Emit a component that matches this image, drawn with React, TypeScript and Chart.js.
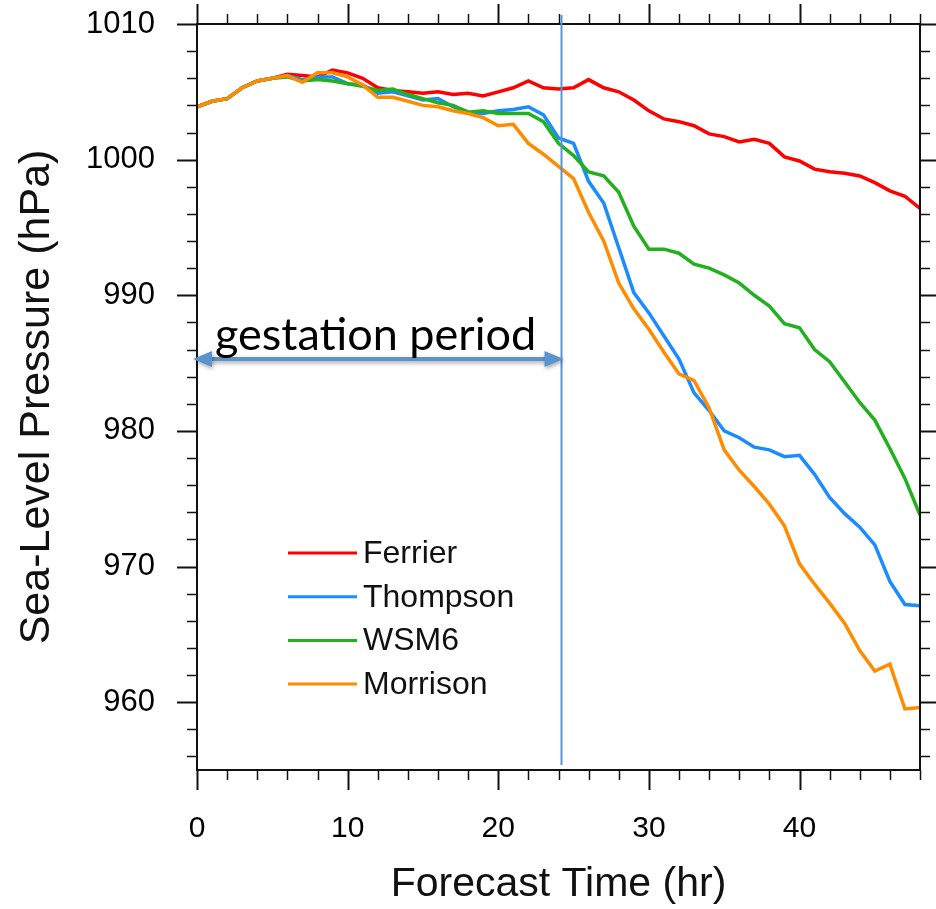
import React, { useEffect, useRef } from "react";
import { Chart, registerables } from "chart.js";

Chart.register(...registerables);

// ---------------- data ----------------
const hours = [
  0, 1, 2, 3, 4, 5, 6, 7, 8, 9, 10, 11, 12, 13, 14, 15, 16, 17, 18, 19, 20, 21, 22, 23, 24,
  25, 26, 27, 28, 29, 30, 31, 32, 33, 34, 35, 36, 37, 38, 39, 40, 41, 42, 43, 44, 45, 46, 47, 48,
];

const ferrier = [
  1003.9, 1004.3, 1004.5, 1005.3, 1005.8, 1006.0, 1006.3, 1006.2, 1006.1, 1006.6, 1006.4,
  1006.0, 1005.3, 1005.1, 1005.0, 1004.9, 1005.0, 1004.8, 1004.9, 1004.7, 1005.0, 1005.3,
  1005.8, 1005.3, 1005.2, 1005.3, 1005.9, 1005.3, 1005.0, 1004.4, 1003.6, 1003.0, 1002.8,
  1002.5, 1001.9, 1001.7, 1001.3, 1001.5, 1001.2, 1000.2, 999.9, 999.3, 999.1, 999.0, 998.8,
  998.3, 997.7, 997.3, 996.4,
];

const thompson = [
  1003.9, 1004.3, 1004.5, 1005.3, 1005.8, 1006.0, 1006.2, 1005.9, 1006.1, 1006.1, 1005.6,
  1005.5, 1004.9, 1005.0, 1004.7, 1004.4, 1004.5, 1003.9, 1003.5, 1003.4, 1003.6, 1003.7,
  1003.9, 1003.3, 1001.6, 1001.2, 998.4, 996.8, 993.5, 990.2, 988.7, 987.0, 985.3, 982.8,
  981.5, 980.0, 979.5, 978.8, 978.6, 978.1, 978.2, 976.8, 975.1, 973.9, 972.9, 971.6, 968.9,
  967.2, 967.1,
];

const wsm6 = [
  1003.9, 1004.3, 1004.5, 1005.3, 1005.8, 1006.0, 1006.1, 1005.8, 1005.9, 1005.8, 1005.6,
  1005.4, 1005.1, 1005.2, 1004.8, 1004.5, 1004.2, 1004.0, 1003.5, 1003.6, 1003.4, 1003.4,
  1003.4, 1002.8, 1001.2, 1000.3, 999.1, 998.8, 997.6, 995.1, 993.4, 993.4, 993.1, 992.3,
  992.0, 991.5, 990.9, 990.0, 989.2, 987.9, 987.6, 986.0, 985.1, 983.6, 982.1, 980.8, 978.7,
  976.5, 973.8,
];

const morrison = [
  1003.9, 1004.3, 1004.5, 1005.3, 1005.8, 1006.0, 1006.2, 1005.7, 1006.4, 1006.4, 1006.1,
  1005.5, 1004.6, 1004.6, 1004.3, 1004.0, 1003.9, 1003.6, 1003.4, 1003.1, 1002.5, 1002.6,
  1001.2, 1000.4, 999.5, 998.6, 996.1, 994.0, 990.9, 989.0, 987.5, 985.8, 984.2, 983.7,
  981.7, 978.6, 977.1, 975.9, 974.6, 973.0, 970.2, 968.7, 967.3, 965.8, 963.8, 962.3, 962.8,
  959.5, 959.6,
];

const seriesNames = ["Ferrier", "Thompson", "WSM6", "Morrison"];
const seriesValues = [ferrier, thompson, wsm6, morrison];
const seriesColors = ["#ff0000", "#1a8cff", "#22b01e", "#ff8c00"];
const seriesOrder = [3, 2, 1, 0];

const xTickValues = [0, 10, 20, 30, 40];
const yTickValues = [960, 970, 980, 990, 1000, 1010];
const xMinorTicks = [
  0, 2, 4, 6, 8, 10, 12, 14, 16, 18, 20, 22, 24, 26, 28, 30, 32, 34, 36, 38, 40, 42, 44, 46, 48,
];
const yMinorTicks = [
  956, 958, 960, 962, 964, 966, 968, 970, 972, 974, 976, 978, 980, 982, 984, 986, 988, 990,
  992, 994, 996, 998, 1000, 1002, 1004, 1006, 1008, 1010,
];

const xTitle = "Forecast Time (hr)";
const yTitle = "Sea-Level Pressure (hPa)";
const gestationEnd = 24.2;
const gestationLevel = 985.3;
const gestationLabel = "gestation period";

const FONT = "'Liberation Sans', Arial, Helvetica, sans-serif";
const NOTE_COLOR = "#5b93d0";

// ---------------- plugins ----------------
const framePlugin = {
  id: "frame",
  afterDatasetsDraw(chart: any) {
    const { ctx, chartArea, scales } = chart;
    const { left, right, top, bottom } = chartArea;
    const x = scales.x;
    const y = scales.y;
    ctx.save();
    ctx.strokeStyle = "#111";
    ctx.lineCap = "butt";
    const seg = (x1: number, y1: number, x2: number, y2: number) => {
      ctx.beginPath();
      ctx.moveTo(x1, y1);
      ctx.lineTo(x2, y2);
      ctx.stroke();
    };
    xMinorTicks.forEach((v) => {
      const px = Math.round(x.getPixelForValue(v)) + 0.5;
      const major = xTickValues.includes(v);
      const len = major ? 20 : 10;
      ctx.lineWidth = major ? 2 : 1.5;
      seg(px, bottom, px, bottom + len);
      seg(px, top, px, top - len);
    });
    yMinorTicks.forEach((v) => {
      const py = Math.round(y.getPixelForValue(v)) + 0.5;
      const major = yTickValues.includes(v);
      const len = major ? 20 : 10;
      ctx.lineWidth = major ? 2 : 1.5;
      seg(left, py, left - len, py);
      seg(right, py, right + len, py);
    });
    ctx.lineWidth = 2;
    ctx.strokeRect(left, top, right - left, bottom - top);
    ctx.restore();
  },
};

const notePlugin = {
  id: "gestation",
  afterDatasetsDraw(chart: any) {
    const { ctx, chartArea, scales } = chart;
    const x = scales.x;
    const y = scales.y;
    const xe = x.getPixelForValue(gestationEnd);
    const x0 = x.getPixelForValue(0);
    const ya = y.getPixelForValue(gestationLevel);
    ctx.save();
    // vertical line
    ctx.strokeStyle = NOTE_COLOR;
    ctx.lineWidth = 2;
    ctx.beginPath();
    ctx.moveTo(xe, chartArea.top - 9);
    ctx.lineTo(xe, chartArea.bottom - 5);
    ctx.stroke();
    // double arrow with shadow
    ctx.shadowColor = "rgba(0,0,0,0.35)";
    ctx.shadowBlur = 4;
    ctx.shadowOffsetY = 2;
    ctx.shadowOffsetX = 1;
    const tipL = x0 - 4;
    const tipR = xe + 2;
    const head = 19;
    const half = 8;
    ctx.lineWidth = 4;
    ctx.beginPath();
    ctx.moveTo(tipL + head - 2, ya);
    ctx.lineTo(tipR - head + 2, ya);
    ctx.stroke();
    ctx.fillStyle = NOTE_COLOR;
    ctx.beginPath();
    ctx.moveTo(tipL, ya);
    ctx.lineTo(tipL + head, ya - half);
    ctx.lineTo(tipL + head, ya + half);
    ctx.closePath();
    ctx.fill();
    ctx.beginPath();
    ctx.moveTo(tipR, ya);
    ctx.lineTo(tipR - head, ya - half);
    ctx.lineTo(tipR - head, ya + half);
    ctx.closePath();
    ctx.fill();
    ctx.restore();
    // label
    ctx.save();
    ctx.fillStyle = "#000";
    ctx.font = "45px Lato, 'Open Sans', sans-serif";
    ctx.textAlign = "left";
    ctx.textBaseline = "alphabetic";
    ctx.fillText(gestationLabel, x0 + 18, ya - 9);
    ctx.restore();
  },
};

const legendPlugin = {
  id: "insideLegend",
  afterDatasetsDraw(chart: any) {
    const { ctx, chartArea } = chart;
    const lx0 = chartArea.left + 91;
    const lx1 = chartArea.left + 160;
    const tx = chartArea.left + 166;
    const ty0 = chartArea.top + 529;
    const dy = 43.7;
    ctx.save();
    ctx.font = `32px ${FONT}`;
    ctx.textAlign = "left";
    ctx.textBaseline = "middle";
    chart.data.datasets.forEach((ds: any, i: number) => {
      const yy = ty0 + i * dy;
      ctx.strokeStyle = ds.borderColor;
      ctx.lineWidth = 3;
      ctx.beginPath();
      ctx.moveTo(lx0, yy);
      ctx.lineTo(lx1, yy);
      ctx.stroke();
      ctx.fillStyle = "#111";
      ctx.fillText(ds.label, tx, yy + 1);
    });
    ctx.restore();
  },
};

// ---------------- component ----------------
export default function App() {
  const canvasRef = useRef<HTMLCanvasElement | null>(null);

  useEffect(() => {
    if (!canvasRef.current) return;
    const datasets = seriesNames.map((name, i) => ({
      label: name,
      data: hours.map((h, j) => ({ x: h, y: seriesValues[i][j] })),
      borderColor: seriesColors[i],
      backgroundColor: seriesColors[i],
      borderWidth: 3.5,
      pointRadius: 0,
      tension: 0,
      fill: false,
      order: seriesOrder[i],
    }));

    const chart = new Chart(canvasRef.current, {
      type: "line",
      data: { datasets },
      options: {
        animation: false,
        responsive: false,
        devicePixelRatio: 1,
        layout: { padding: { top: 24, right: 16, left: 0, bottom: 0 } },
        plugins: {
          legend: { display: false },
          tooltip: { enabled: false },
        },
        scales: {
          x: {
            type: "linear",
            min: 0,
            max: 48,
            afterBuildTicks: (s: any) => {
              s.ticks = xTickValues.map((v) => ({ value: v }));
            },
            afterFit: (s: any) => {
              s.height = 139;
              s.paddingLeft = 0;
              s.paddingRight = 0;
            },
            grid: { display: false, drawTicks: false },
            border: { display: false },
            ticks: {
              color: "#000",
              padding: 41,
              maxRotation: 0,
              autoSkip: false,
              font: { family: FONT, size: 30 },
              callback: (v: any) => String(v),
            },
            title: {
              display: true,
              text: xTitle,
              color: "#111",
              font: { family: FONT, size: 41 },
              padding: { top: 0, bottom: 0 },
            },
          },
          y: {
            type: "linear",
            min: 955,
            max: 1010,
            afterBuildTicks: (s: any) => {
              s.ticks = yTickValues.map((v) => ({ value: v }));
            },
            afterFit: (s: any) => {
              s.width = 197;
              s.paddingTop = 0;
              s.paddingBottom = 0;
            },
            grid: { display: false, drawTicks: false },
            border: { display: false },
            ticks: {
              color: "#000",
              padding: 42,
              autoSkip: false,
              font: { family: FONT, size: 31 },
              callback: (v: any) => String(v),
            },
            title: {
              display: true,
              text: yTitle,
              color: "#111",
              font: { family: FONT, size: 43 },
              padding: { top: 11, bottom: 0 },
            },
          },
        },
      },
      plugins: [framePlugin, notePlugin, legendPlugin],
    });
    return () => chart.destroy();
  }, []);

  return (
    <div style={{ position: "absolute", left: 0, top: 0, width: 936, height: 909, background: "#fff" }}>
      <canvas ref={canvasRef} width={936} height={909} style={{ display: "block" }} />
    </div>
  );
}
